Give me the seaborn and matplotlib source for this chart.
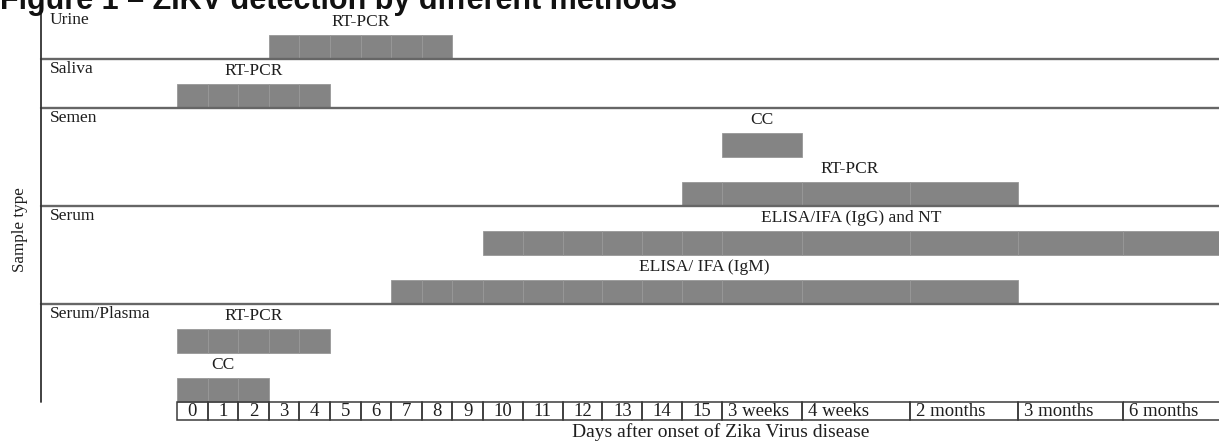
import numpy as np
import matplotlib.pyplot as plt
import seaborn as sns

# sample types (rows) and how many bar lanes each row holds
sample_types = ["Urine", "Saliva", "Semen", "Serum", "Serum/Plasma"]
lanes_per_type = [1, 1, 2, 2, 2]

# time axis columns
col_labels = [str(d) for d in range(16)] + ["3 weeks", "4 weeks", "2 months", "3 months", "6 months"]

# detection windows: sample, method, lane inside the row, first and last column (inclusive)
bar_sample = ["Urine", "Saliva", "Semen", "Semen", "Serum", "Serum", "Serum/Plasma", "Serum/Plasma"]
bar_method = ["RT-PCR", "RT-PCR", "CC", "RT-PCR", "ELISA/IFA (IgG) and NT",
              "ELISA/ IFA (IgM)", "RT-PCR", "CC"]
bar_lane = [0, 0, 0, 1, 0, 1, 0, 1]
bar_first = [3, 0, 16, 15, 10, 7, 0, 0]
bar_last = [8, 4, 16, 18, 20, 18, 4, 2]

# layout (pixels)
W, H = 1219, 446
col_widths = [30.6] * 10 + [39.8] * 6 + [80, 108, 108, 105, 110]
table_left = 177
panel_top = 10
lane_h = 49
axis_x = 41
bar_h = 24
table_h = 18

sns.set_theme(style="white")
plt.rcParams['font.family'] = ['Liberation Serif', 'DejaVu Serif']
txt_color = '#1e1e1e'

fig = plt.figure(figsize=(W / 100, H / 100), dpi=100)
ax = fig.add_axes([0, 0, 1, 1])
ax.set_xlim(0, W)
ax.set_ylim(H, 0)
ax.axis('off')

edges = table_left + np.concatenate([[0], np.cumsum(col_widths)])
row_tops = panel_top + lane_h * np.concatenate([[0], np.cumsum(lanes_per_type)])
panel_bottom = row_tops[-1]

# rows: labels and separators
for i, name in enumerate(sample_types):
    ax.text(axis_x + 9, row_tops[i] + 10, name, fontsize=12.5, va='center', ha='left', color=txt_color)
    if i > 0:
        ax.plot([axis_x, W], [row_tops[i], row_tops[i]], color='#666666', lw=1.7)
ax.plot([axis_x, axis_x], [panel_top, panel_bottom], color='#333333', lw=1.3)

# bars
for s, m, ln, c0, c1 in zip(bar_sample, bar_method, bar_lane, bar_first, bar_last):
    r = sample_types.index(s)
    lane_bottom = row_tops[r] + lane_h * (ln + 1)
    for c in range(c0, c1 + 1):
        ax.barh(lane_bottom - bar_h / 2, edges[c + 1] - edges[c], left=edges[c], height=bar_h,
                color='#848484', edgecolor='#989898', linewidth=0.6)
    xc = (edges[c0] + min(edges[c1 + 1], W)) / 2
    ax.text(xc, lane_bottom - 37, m, fontsize=12.5, ha='center', va='center', color=txt_color)

# time axis as a table of cells
for c, lab in enumerate(col_labels):
    x0, x1 = edges[c], edges[c + 1]
    ax.add_patch(plt.Rectangle((x0, panel_bottom), x1 - x0, table_h, fill=False,
                               edgecolor='#3a3a3a', lw=1.1))
    if c < 16:
        ax.text((x0 + x1) / 2, panel_bottom + table_h / 2 + 1, lab, fontsize=13.5,
                ha='center', va='center', color=txt_color)
    else:
        ax.text(x0 + 6, panel_bottom + table_h / 2 + 1, lab, fontsize=13.5,
                ha='left', va='center', color=txt_color)

ax.text(721, panel_bottom + table_h + 12, "Days after onset of Zika Virus disease",
        fontsize=14, ha='center', va='center', color=txt_color)
ax.text(20, 230, "Sample type", fontsize=12.3, rotation=90,
        ha='center', va='center', color=txt_color)

# title, cut at the top edge as in the source image
fig.text(0, 1 - 9 / H, "Figure 1 \u2013 ZIKV detection by different methods",
         fontsize=22, fontweight='bold', family=['Liberation Sans', 'DejaVu Sans'],
         ha='left', va='baseline', color='#111111')

fig.savefig('out.png', dpi=100, facecolor='white')
